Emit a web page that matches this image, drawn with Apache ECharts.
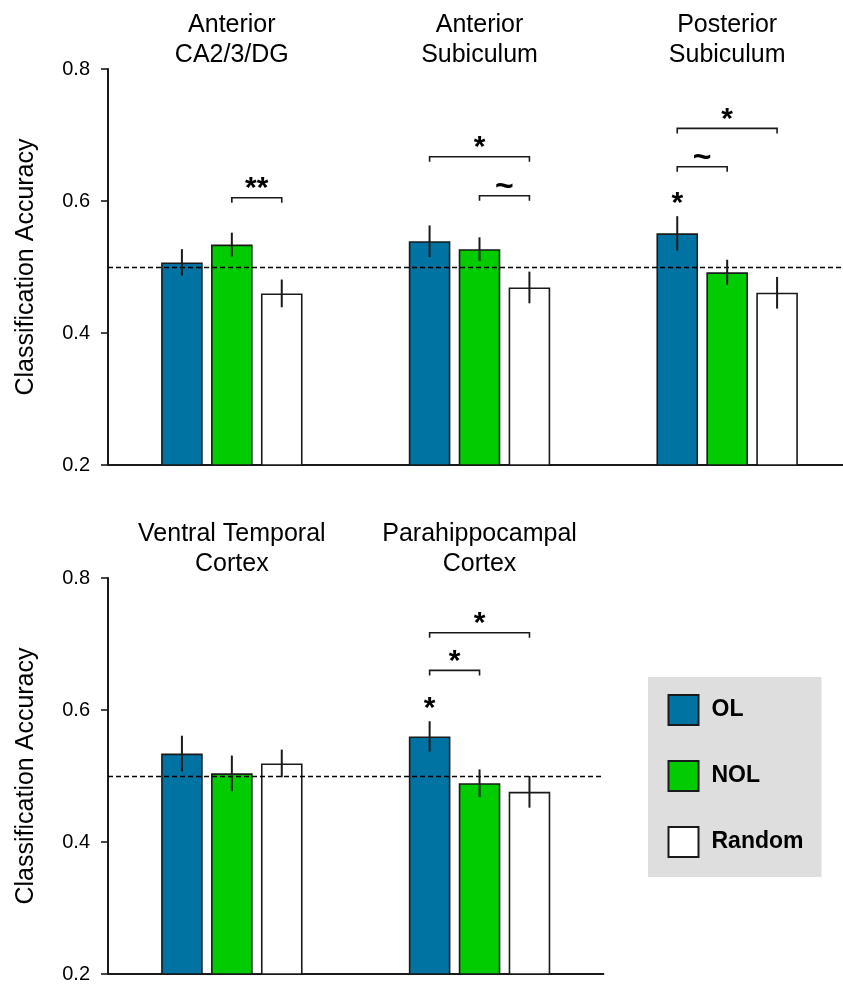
<!DOCTYPE html>
<html>
<head>
<meta charset="utf-8">
<script src="https://cdn.jsdelivr.net/npm/echarts@6/dist/echarts.min.js"></script>
<style>html,body{margin:0;padding:0;background:#fff;overflow:hidden;width:843px;height:986px}#c{width:852px;height:986px}</style>
</head>
<body>
<div id="c"></div>
<script>
// ---------- data ----------
const topCategories = ['Anterior\nCA2/3/DG', 'Anterior\nSubiculum', 'Posterior\nSubiculum'];
const bottomCategories = ['Ventral Temporal\nCortex', 'Parahippocampal\nCortex'];
const seriesNames = ['OL', 'NOL', 'Random'];

const topOL = [0.507, 0.539, 0.551];
const topOLErr = [0.020, 0.024, 0.026];
const topNOL = [0.534, 0.527, 0.492];
const topNOLErr = [0.018, 0.018, 0.019];
const topRandom = [0.460, 0.469, 0.461];
const topRandomErr = [0.021, 0.024, 0.024];

const botOL = [0.534, 0.560];
const botOLErr = [0.027, 0.023];
const botNOL = [0.504, 0.489];
const botNOLErr = [0.027, 0.021];
const botRandom = [0.519, 0.476];
const botRandomErr = [0.021, 0.024];

const chanceLevel = 0.5;
const yTicks = [0.2, 0.4, 0.6, 0.8];

// significance brackets: [category, fromSeries, toSeries, height, label]
const topBrackets = [
  [0, 1, 2, 0.605, '**'],
  [1, 0, 2, 0.667, '*'],
  [1, 1, 2, 0.608, '~'],
  [2, 0, 2, 0.710, '*'],
  [2, 0, 1, 0.652, '~']
];
const bottomBrackets = [
  [1, 0, 2, 0.717, '*'],
  [1, 0, 1, 0.660, '*']
];
// stars above single bars: [category, series, label]
const topStars = [[2, 0, '*']];
const bottomStars = [[1, 0, '*']];

// ---------- style ----------
const FONT = '"Liberation Sans", Arial, sans-serif';
const COLORS = ['#0073a3', '#00cc00', '#ffffff'];
const BAR_W = 41.6;
const BAR_GAP = 0.2;
const STEP = BAR_W * (1 + BAR_GAP);
const INK = '#1a1a1a';

const chart = echarts.init(document.getElementById('c'), null, {renderer: 'canvas'});

function barSeries(name, idx, data, axisIdx, withLine) {
  const s = {
    name: name, type: 'bar', xAxisIndex: axisIdx, yAxisIndex: axisIdx,
    data: data, barWidth: BAR_W, barGap: (BAR_GAP * 100) + '%',
    itemStyle: {color: COLORS[idx], borderColor: INK, borderWidth: 1.6},
    emphasis: {disabled: true}, silent: true, z: 2
  };
  if (withLine) {
    s.markLine = {
      silent: true, symbol: ['none', 'none'], label: {show: false},
      lineStyle: {type: [5, 3], color: '#000', width: 1.3},
      data: [{yAxis: chanceLevel}], z: 5, animation: false
    };
  }
  return s;
}

function errorSeries(vals, errs, axisIdx) {
  const data = [];
  vals.forEach((arr, s) => arr.forEach((v, i) => data.push([i, s, v, errs[s][i]])));
  return {
    type: 'custom', xAxisIndex: axisIdx, yAxisIndex: axisIdx, z: 10, silent: true,
    encode: {x: 0, y: 2},
    data: data,
    renderItem: function (params, api) {
      const cat = api.value(0), s = api.value(1), v = api.value(2), e = api.value(3);
      const hi = api.coord([cat, v + e]);
      const lo = api.coord([cat, v - e]);
      const dx = (s - 1) * STEP;
      return {type: 'line', shape: {x1: hi[0] + dx, y1: hi[1], x2: lo[0] + dx, y2: lo[1]},
              style: {stroke: INK, lineWidth: 2}};
    }
  };
}

function textEl(label, x, y) {
  const isTilde = label === '~';
  return {type: 'text', style: {
    text: label, x: x, y: y,
    textAlign: 'center', textVerticalAlign: 'middle', align: 'center', verticalAlign: 'middle',
    font: 'bold ' + (isTilde ? 32 : 30) + 'px ' + FONT, fill: '#000'
  }};
}

function bracketSeries(brackets, axisIdx) {
  return {
    type: 'custom', xAxisIndex: axisIdx, yAxisIndex: axisIdx, z: 10, silent: true,
    encode: {x: 0, y: 3},
    data: brackets.map(b => [b[0], b[1], b[2], b[3]]),
    renderItem: function (params, api) {
      const cat = api.value(0), s1 = api.value(1), s2 = api.value(2), h = api.value(3);
      const p = api.coord([cat, h]);
      const x1 = p[0] + (s1 - 1) * STEP, x2 = p[0] + (s2 - 1) * STEP;
      const y = p[1];
      const label = brackets[params.dataIndex][4];
      return {type: 'group', children: [
        {type: 'polyline', shape: {points: [[x1, y + 5], [x1, y], [x2, y], [x2, y + 5]]},
         style: {stroke: INK, lineWidth: 1.6, fill: null}},
        textEl(label, (x1 + x2) / 2, y - 9)
      ]};
    }
  };
}

function starSeries(stars, vals, errs, axisIdx) {
  return {
    type: 'custom', xAxisIndex: axisIdx, yAxisIndex: axisIdx, z: 10, silent: true,
    encode: {x: 0, y: 2},
    data: stars.map(st => [st[0], st[1], vals[st[1]][st[0]] + errs[st[1]][st[0]]]),
    renderItem: function (params, api) {
      const cat = api.value(0), s = api.value(1), top = api.value(2);
      const p = api.coord([cat, top]);
      return textEl(stars[params.dataIndex][2], p[0] + (s - 1) * STEP, p[1] - 12);
    }
  };
}

function yAxis(gridIdx) {
  return {
    type: 'value', gridIndex: gridIdx, min: 0.2, max: 0.8, interval: 0.2,
    name: 'Classification Accuracy', nameLocation: 'middle', nameGap: 69,
    nameTextStyle: {fontFamily: FONT, fontSize: 25, color: '#000'},
    axisLine: {show: true, lineStyle: {color: INK, width: 2}},
    axisTick: {show: true, inside: false, length: 7, lineStyle: {color: INK, width: 1.6}},
    axisLabel: {fontFamily: FONT, fontSize: 20, color: '#000', margin: 18,
                formatter: v => yTicks.includes(+v.toFixed(1)) ? v.toFixed(1) : ''},
    splitLine: {show: false}
  };
}

function xAxisBottom(gridIdx, cats) {
  return {
    type: 'category', gridIndex: gridIdx, data: cats, position: 'bottom',
    axisLine: {show: true, onZero: false, lineStyle: {color: INK, width: 2}},
    axisTick: {show: false}, axisLabel: {show: false}, splitLine: {show: false}
  };
}
function xAxisTop(gridIdx, cats) {
  return {
    type: 'category', gridIndex: gridIdx, data: cats, position: 'top',
    axisLine: {show: false}, axisTick: {show: false}, splitLine: {show: false},
    axisLabel: {show: true, interval: 0, margin: -1, fontFamily: FONT, fontSize: 25,
                lineHeight: 30, color: '#000', align: 'center'}
  };
}

const topVals = [topOL, topNOL, topRandom];
const topErrs = [topOLErr, topNOLErr, topRandomErr];
const botVals = [botOL, botNOL, botRandom];
const botErrs = [botOLErr, botNOLErr, botRandomErr];

const option = {
  animation: false,
  backgroundColor: '#fff',
  grid: [
    {left: 108, top: 69, width: 743, height: 396, containLabel: false},
    {left: 108, top: 578, width: 495.4, height: 396, containLabel: false}
  ],
  xAxis: [
    xAxisBottom(0, topCategories), xAxisBottom(1, bottomCategories),
    xAxisTop(0, topCategories), xAxisTop(1, bottomCategories)
  ],
  yAxis: [yAxis(0), yAxis(1)],
  legend: {
    data: seriesNames, orient: 'vertical', left: 648, top: 677,
    backgroundColor: '#dedede', padding: [17, 18, 19, 19.5],
    itemWidth: 30, itemHeight: 30, itemGap: 34, icon: 'rect',
    selectedMode: false,
    textStyle: {fontFamily: FONT, fontSize: 23, fontWeight: 'bold', color: '#000', padding: [0, 0, 0, 8]}
  },
  series: [
    barSeries('OL', 0, topOL, 0, true),
    barSeries('NOL', 1, topNOL, 0, false),
    barSeries('Random', 2, topRandom, 0, false),
    barSeries('OL', 0, botOL, 1, true),
    barSeries('NOL', 1, botNOL, 1, false),
    barSeries('Random', 2, botRandom, 1, false),
    errorSeries(topVals, topErrs, 0),
    errorSeries(botVals, botErrs, 1),
    bracketSeries(topBrackets, 0),
    bracketSeries(bottomBrackets, 1),
    starSeries(topStars, topVals, topErrs, 0),
    starSeries(bottomStars, botVals, botErrs, 1)
  ]
};
chart.setOption(option);
</script>
</body>
</html>
